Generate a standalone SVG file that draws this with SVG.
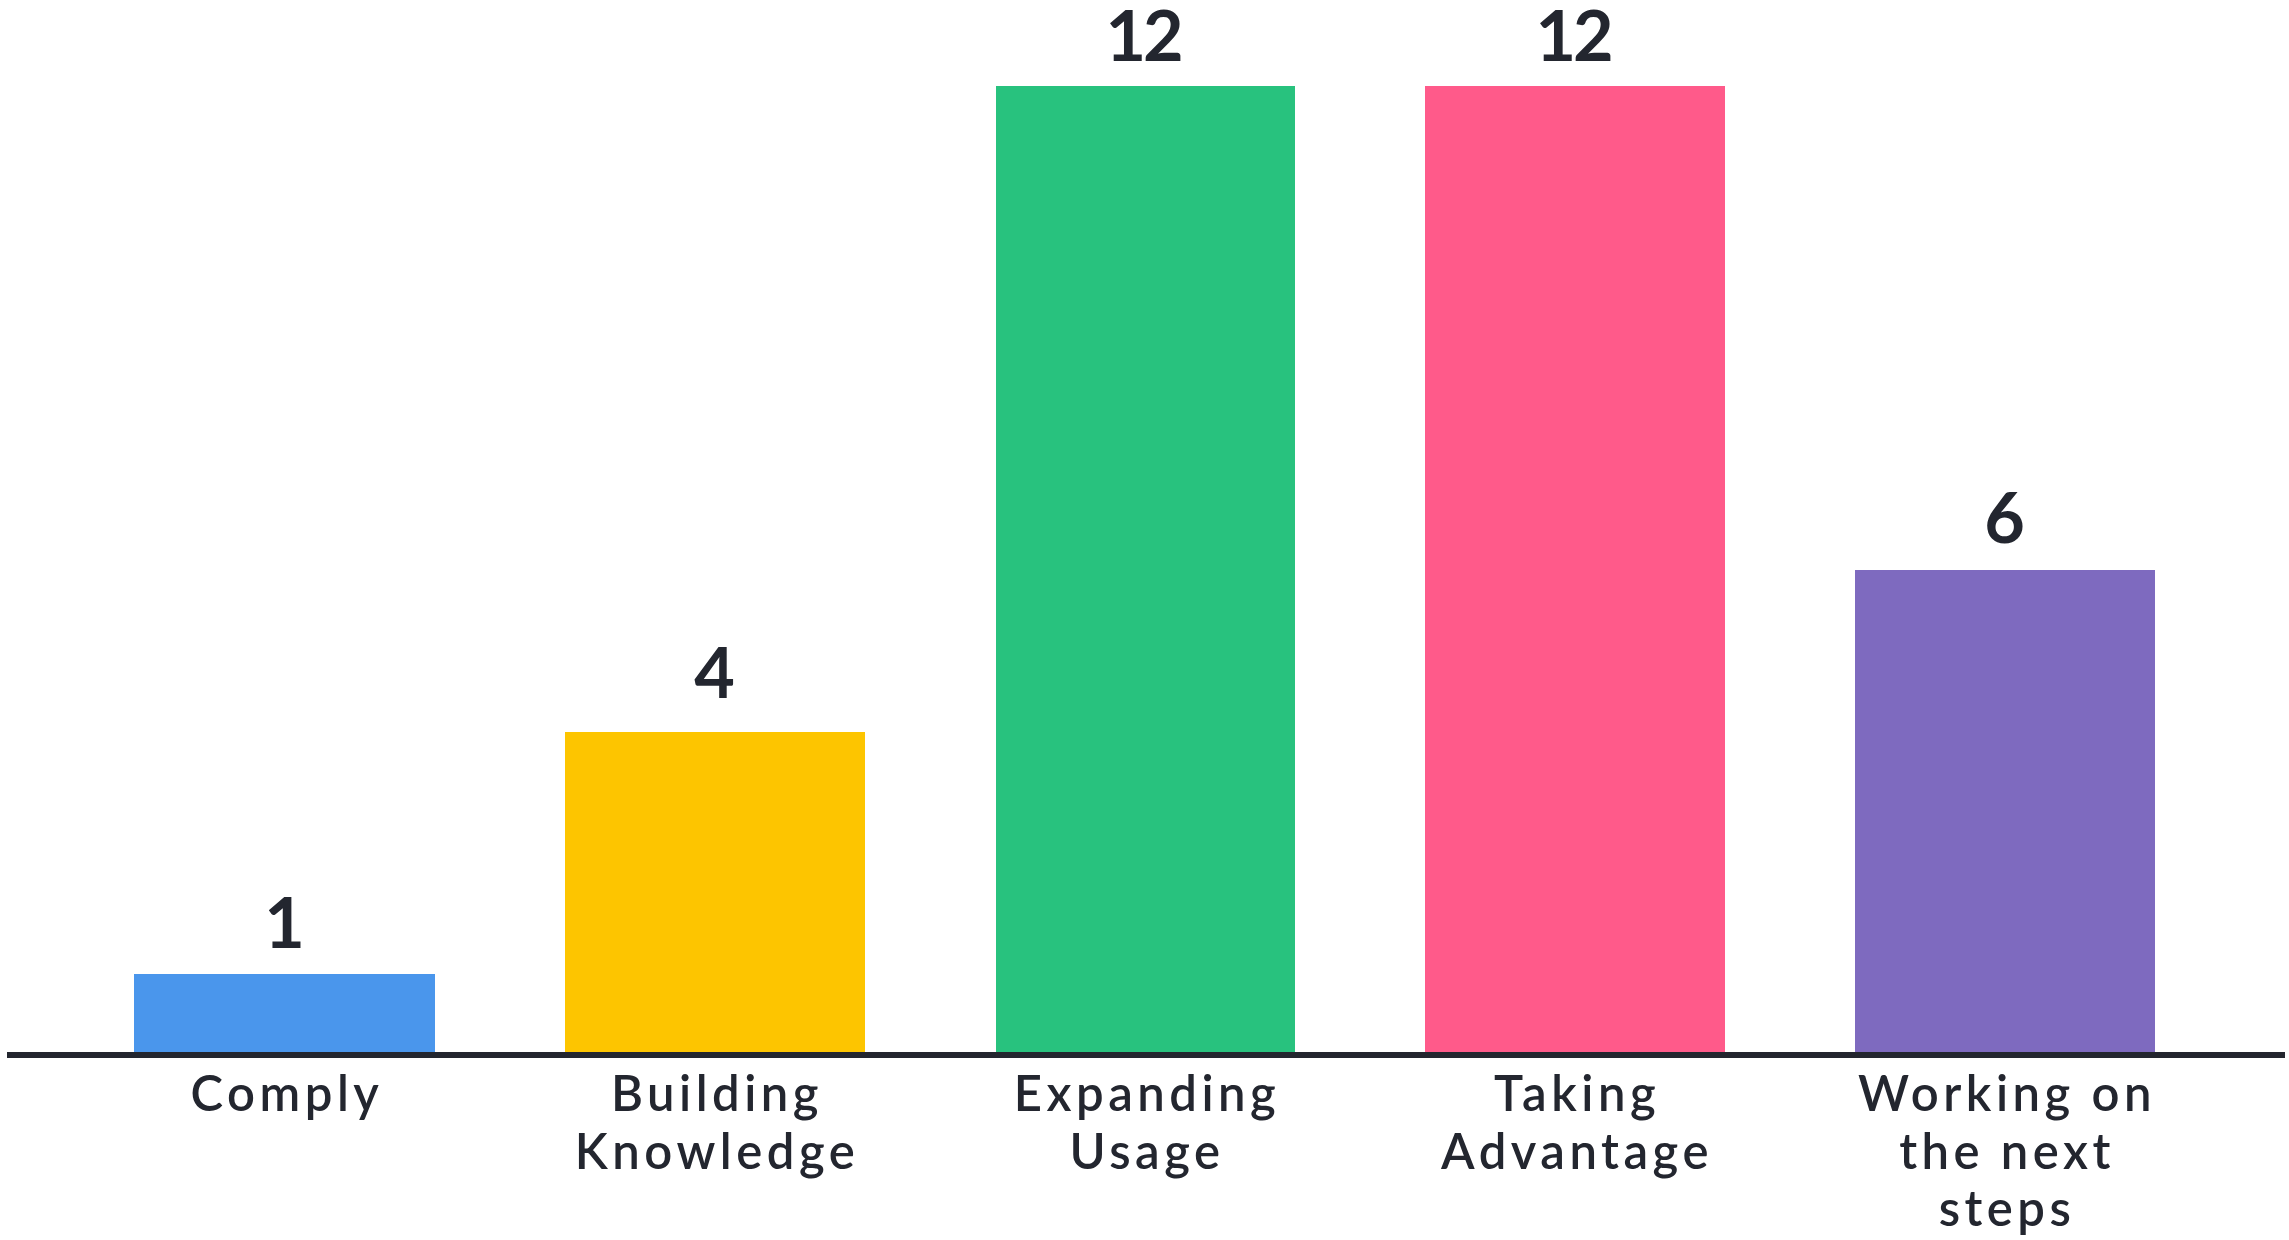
<svg xmlns="http://www.w3.org/2000/svg" width="2289" height="1240" viewBox="0 0 2289 1240">
<style>
.val{font-family:"Lato","Liberation Sans",sans-serif;font-weight:700;font-size:70px;fill:#23262f;text-anchor:middle;letter-spacing:-3px}
.lbl{font-family:"Lato","Liberation Sans",sans-serif;font-weight:600;font-size:49px;fill:#23262f;text-anchor:middle;letter-spacing:4.5px}
</style>
<rect width="2289" height="1240" fill="#ffffff"/>
<g id="bar-comply">
<rect x="134" y="974" width="301" height="81" fill="#4a96ec"/>
<text class="val" x="283" y="948">1</text>
<text class="lbl" x="287" y="1111">Comply</text>
</g>
<g id="bar-building">
<rect x="565" y="732" width="300" height="323" fill="#fdc500"/>
<text class="val" x="713" y="698">4</text>
<text class="lbl" x="717" y="1111">Building</text>
<text class="lbl" x="717" y="1169">Knowledge</text>
</g>
<g id="bar-expanding">
<rect x="996" y="86" width="299" height="969" fill="#28c27e"/>
<text class="val" x="1143" y="61">12</text>
<text class="lbl" x="1147" y="1111">Expanding</text>
<text class="lbl" x="1147" y="1169">Usage</text>
</g>
<g id="bar-taking">
<rect x="1425" y="86" width="300" height="969" fill="#ff5a8a"/>
<text class="val" x="1573" y="61">12</text>
<text class="lbl" x="1577" y="1111">Taking</text>
<text class="lbl" x="1577" y="1169">Advantage</text>
</g>
<g id="bar-working">
<rect x="1855" y="570" width="300" height="485" fill="#7e6abf"/>
<text class="val" x="2003" y="543">6</text>
<text class="lbl" x="2007" y="1111">Working on</text>
<text class="lbl" x="2007" y="1169">the next</text>
<text class="lbl" x="2007" y="1226">steps</text>
</g>
<g id="connectors">
<line x1="7" y1="1055" x2="2285" y2="1055" stroke="#23262f" stroke-width="6"/>
</g>
</svg>
